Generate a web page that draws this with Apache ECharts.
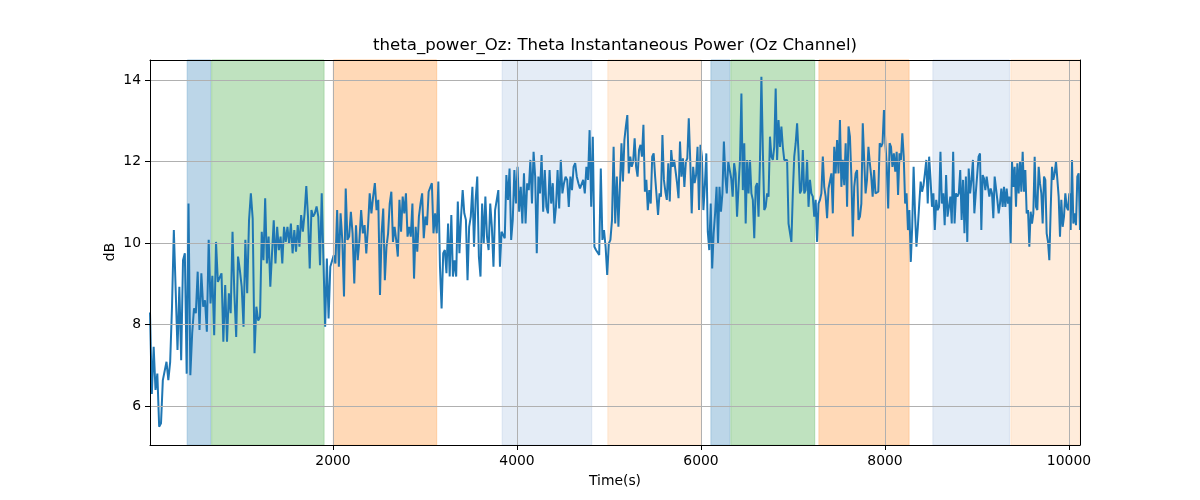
<!DOCTYPE html>
<html>
<head>
<meta charset="utf-8">
<script src="https://cdn.jsdelivr.net/npm/echarts@6/dist/echarts.min.js"></script>
<style>html,body{margin:0;padding:0;background:#fff;}#c{width:1200px;height:500px;}</style>
</head>
<body>
<div id="c"></div>
<script>
// ---- data ----
const titleText = 'theta_power_Oz: Theta Instantaneous Power (Oz Channel)';
const xName = 'Time(s)';
const yName = 'dB';
const xTicks = [2000, 4000, 6000, 8000, 10000];
const yTicks = [6, 8, 10, 12, 14];
const xRange = [11, 10120];
const yRange = [5.05, 14.49];

// time bounds of the sections the values were read in
const segBounds = [11, 1207, 2511, 3815, 5120, 6424, 7728, 9033, 10120];

const seg1 = [8.3, 6.3, 7.46, 6.4, 6.8, 5.5, 5.58, 6.64, 6.64, 7.09, 6.64, 7.09, 8.44, 10.32, 10.3, 7.38, 8.93, 7.13, 9.58, 9.75, 6.8, 10.97, 6.76, 7.79, 8.4, 8.28, 9.3, 7.87, 9.26, 8.44, 8.6, 7.83, 10.08, 8.52, 9.2, 7.74, 10.03, 9.05, 9.05, 9.26, 7.58, 8.97, 7.58, 8.77, 8.28, 10.28, 8.77, 7.7, 9.67, 9.34, 8.93, 7.95, 10.08, 8.77, 10.56, 11.22, 10.6, 7.3, 8.44, 8.1];
const seg2 = [8.19, 10.28, 9.58, 11.1, 9.5, 10.16, 8.93, 9.75, 10.56, 9.5, 10.4, 9.83, 10.16, 9.5, 10.4, 10.03, 10.4, 9.99, 10.48, 9.75, 10.32, 9.79, 10.44, 9.91, 10.69, 10.28, 10.73, 11.4, 10.65, 9.38, 10.81, 10.65, 10.73, 10.9, 10.65, 9.46, 11.22, 9.58, 7.95, 9.62, 8.15, 9.42, 9.46, 9.7, 9.5, 10.81, 9.42, 10.73, 10.08, 8.69, 11.34, 10.08, 10.16, 10.77, 10.24, 9.01, 10.44, 9.58, 10.08, 10.81, 10.24, 10.44, 9.75, 10.4, 11.22, 10.73, 11.14, 11.47, 10.81, 11.06];
const seg3 = [8.73, 10.24, 10.85, 9.09, 9.91, 10.24, 10.97, 11.26, 10.03, 10.40, 10.08, 9.67, 11.06, 10.28, 11.14, 10.73, 11.22, 10.16, 10.40, 10.16, 10.97, 9.13, 10.40, 9.79, 10.65, 10.97, 11.22, 10.12, 10.65, 10.44, 11.26, 11.22, 11.47, 10.24, 10.73, 10.24, 11.51, 9.42, 8.40, 9.75, 9.83, 9.26, 10.48, 9.18, 10.69, 9.18, 9.58, 9.18, 11.02, 9.75, 10.65, 11.30, 10.73, 10.57, 9.09, 10.40, 10.65, 11.38, 9.91, 11.06, 11.63, 9.67, 9.18, 10.97, 9.99, 11.14, 10.16, 9.83, 10.97, 10.40, 9.42, 10.81, 10.81, 11.30];
const seg4 = [9.42, 10.28, 10.24, 10.12, 11.67, 11.06, 11.83, 10.08, 10.57, 11.79, 10.97, 11.87, 10.77, 11.38, 10.48, 11.71, 10.48, 11.47, 11.30, 12.04, 10.97, 12.24, 11.63, 9.75, 11.63, 11.22, 12.16, 10.77, 11.79, 10.89, 10.73, 11.79, 10.97, 11.47, 10.48, 10.89, 11.79, 10.85, 12.04, 11.22, 11.47, 11.63, 11.55, 10.89, 11.63, 11.30, 11.87, 11.96, 11.63, 11.47, 11.34, 11.30, 11.55, 11.22, 11.87, 11.55, 12.77, 10.89, 12.61, 9.91, 9.83, 9.79, 9.71, 11.83, 10.08, 10.32, 9.91, 9.22, 9.99, 10.08, 10.57, 12.36, 10.48, 11.63, 10.40];
const seg5 = [10.40, 12.45, 11.51, 12.53, 12.86, 13.14, 11.71, 12.12, 11.87, 12.00, 12.57, 11.87, 11.63, 12.28, 12.41, 12.12, 12.90, 11.26, 11.55, 10.81, 11.30, 10.97, 12.12, 12.20, 11.63, 11.59, 10.69, 11.22, 11.14, 12.65, 11.55, 11.26, 11.06, 11.96, 11.02, 12.28, 11.87, 12.04, 12.08, 11.47, 11.10, 12.49, 11.63, 12.08, 11.38, 12.00, 12.08, 13.06, 12.04, 10.73, 11.87, 11.47, 11.67, 12.36, 10.81, 12.41, 12.12, 10.81, 11.42, 12.20, 10.28, 9.83, 10.97, 9.38, 10.24, 10.73, 11.38, 9.99, 11.38, 10.77, 11.22, 12.49, 11.63, 11.22, 12.00, 11.79, 11.59, 11.14, 11.96, 11.71, 10.65, 11.38];
const seg6 = [12.04, 13.67, 11.30, 12.45, 10.48, 12.04, 11.22, 12.04, 11.22, 11.06, 10.12, 11.38, 11.47, 10.65, 12.04, 14.08, 12.28, 10.81, 10.89, 11.22, 11.14, 12.61, 12.12, 12.04, 12.36, 13.79, 12.04, 13.02, 12.36, 12.86, 12.36, 12.04, 12.08, 12.04, 10.48, 10.52, 10.03, 11.22, 12.12, 12.45, 12.94, 12.20, 11.22, 11.30, 12.28, 11.22, 11.30, 12.04, 10.89, 11.55, 11.22, 11.14, 10.65, 11.06, 10.03, 10.97, 11.06, 11.22, 12.12, 11.38, 11.14, 10.61, 11.34, 11.34, 11.71, 10.73, 12.36, 11.71, 12.53, 11.71, 13.02, 11.38, 12.04, 11.42, 12.45, 10.89, 12.86, 12.61, 11.63, 10.16, 11.38, 11.71, 11.79, 10.57];
const seg7 = [10.65, 10.97, 12.94, 12.04, 11.22, 11.55, 12.36, 11.96, 11.63, 11.14, 11.79, 11.22, 11.22, 11.26, 12.45, 12.36, 12.45, 13.26, 12.45, 11.87, 10.85, 12.45, 12.36, 11.87, 12.20, 11.75, 12.24, 11.18, 12.20, 12.04, 12.69, 12.12, 10.97, 11.22, 10.32, 10.81, 9.54, 10.40, 11.87, 10.73, 9.91, 10.40, 10.97, 11.51, 11.26, 11.42, 11.71, 12.04, 10.97, 12.12, 11.55, 10.89, 11.22, 10.32, 11.06, 10.81, 10.89, 12.24, 10.97, 11.22, 10.44, 11.67, 10.65, 10.89, 11.14, 10.48, 12.24, 10.48, 11.22, 11.14, 11.22, 11.79, 10.57, 11.55, 10.24, 11.63, 10.03, 11.83, 11.22, 11.55, 12.04, 10.73, 11.22, 11.22, 12.12];
const seg8 = [12.20, 10.32, 11.67, 11.59, 11.30, 11.63, 11.38, 11.14, 11.34, 11.22, 10.61, 11.63, 11.67, 11.06, 10.73, 10.97, 11.34, 10.89, 11.38, 10.89, 11.34, 10.97, 11.14, 9.99, 12.00, 11.38, 11.87, 10.89, 11.96, 11.22, 12.00, 11.26, 12.24, 11.26, 11.79, 10.73, 10.81, 9.91, 10.77, 10.48, 10.73, 12.12, 10.89, 10.81, 11.87, 11.47, 11.22, 10.48, 11.63, 11.55, 10.24, 10.03, 9.58, 10.81, 11.87, 11.55, 11.71, 12.00, 12.04, 11.14, 10.16, 11.06, 10.40, 10.65, 11.22, 10.89, 10.81, 11.22, 10.32, 12.04, 10.48, 10.73, 10.44, 11.63, 11.71, 10.32];

// shaded spans
const spanStart = [416, 682, 2004, 3840, 4989, 6109, 6326, 7283, 8522, 9370];
const spanEnd   = [671, 1902, 3127, 4812, 6005, 6315, 7236, 8261, 9352, 10120];
const spanKind  = ['blue', 'green', 'orange', 'lblue', 'lorange', 'blue', 'green', 'orange', 'lblue', 'lorange'];

// ---- build ----
const spanFill = { blue: '#bcd6e8', green: '#bfe2bf', orange: '#ffd9b7', lblue: '#e4ecf6', lorange: '#ffecdb' };
const spanEdge = { blue: '#a3c6df', green: '#a6d6a6', orange: '#ffcb9c', lblue: '#d6e1f0', lorange: '#ffe2c8' };

const segs = [seg1, seg2, seg3, seg4, seg5, seg6, seg7, seg8];
const lineData = [];
segs.forEach((vals, k) => {
  const s = segBounds[k], e = segBounds[k + 1];
  const last = k === segs.length - 1;
  const step = (e - s) / (last ? vals.length - 1 : vals.length);
  vals.forEach((v, i) => lineData.push([s + i * step, v]));
});

const areas = spanStart.map((s, i) => [
  { xAxis: s, itemStyle: { color: spanFill[spanKind[i]], borderColor: spanEdge[spanKind[i]], borderWidth: 1 } },
  { xAxis: spanEnd[i] }
]);
const gridLines = xTicks.map(v => ({ xAxis: v })).concat(yTicks.map(v => ({ yAxis: v })));

const font = 'DejaVu Sans';
const chart = echarts.init(document.getElementById('c'), null, { renderer: 'canvas' });
chart.setOption({
  animation: false,
  backgroundColor: '#fff',
  grid: { left: 150, right: 120, top: 60, bottom: 55, show: false },
  graphic: [
    { type: 'text', x: 615, y: 46, z: 100, style: { text: titleText, fill: '#000', font: '16.6px "DejaVu Sans"', textAlign: 'center', textVerticalAlign: 'middle' } },
    { type: 'text', x: 615, y: 481, z: 100, style: { text: xName, fill: '#000', font: '13.9px "DejaVu Sans"', textAlign: 'center', textVerticalAlign: 'middle' } },
    { type: 'text', x: 110, y: 252, rotation: Math.PI / 2, z: 100, style: { text: yName, fill: '#000', font: '13.9px "DejaVu Sans"', textAlign: 'center', textVerticalAlign: 'middle' } }
  ],
  xAxis: [{
    type: 'value', min: xRange[0], max: xRange[1], position: 'bottom', z: 10,
    axisLine: { show: true, onZero: false, lineStyle: { color: '#000', width: 1 } },
    axisTick: { show: true, inside: false, length: 5, customValues: xTicks, lineStyle: { color: '#000' } },
    axisLabel: { customValues: xTicks, formatter: v => String(v), margin: 9, color: '#000', fontFamily: font, fontSize: 13.9 },
    splitLine: { show: false }
  }, {
    type: 'value', min: xRange[0], max: xRange[1], position: 'top', z: 10,
    axisLine: { show: true, onZero: false, lineStyle: { color: '#000', width: 1 } },
    axisTick: { show: false }, axisLabel: { show: false }, splitLine: { show: false }
  }],
  yAxis: [{
    type: 'value', min: yRange[0], max: yRange[1], position: 'left', z: 10,
    axisLine: { show: true, onZero: false, lineStyle: { color: '#000', width: 1 } },
    axisTick: { show: true, inside: false, length: 5, customValues: yTicks, lineStyle: { color: '#000' } },
    axisLabel: { customValues: yTicks, formatter: v => String(v), margin: 9, color: '#000', fontFamily: font, fontSize: 13.9 },
    splitLine: { show: false }
  }, {
    type: 'value', min: yRange[0], max: yRange[1], position: 'right', z: 10,
    axisLine: { show: true, onZero: false, lineStyle: { color: '#000', width: 1 } },
    axisTick: { show: false }, axisLabel: { show: false }, splitLine: { show: false }
  }],
  series: [
    {
      type: 'line', data: [], z: 1, silent: true,
      markArea: { silent: true, data: areas, emphasis: { disabled: true } }
    },
    {
      type: 'line', data: [], z: 2, silent: true,
      markLine: {
        silent: true, symbol: ['none', 'none'], label: { show: false },
        lineStyle: { type: 'solid', color: '#b0b0b0', width: 1 },
        emphasis: { disabled: true },
        data: gridLines
      }
    },
    {
      type: 'line', data: lineData, z: 3, showSymbol: false, symbol: 'none',
      lineStyle: { color: '#1f77b4', width: 2 }, itemStyle: { color: '#1f77b4' },
      emphasis: { disabled: true }
    }
  ]
});
</script>
</body>
</html>
